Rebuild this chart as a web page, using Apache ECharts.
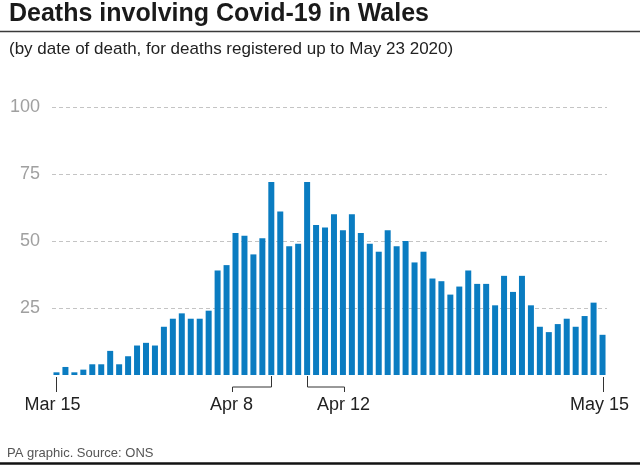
<!DOCTYPE html>
<html>
<head>
<meta charset="utf-8">
<script src="https://cdn.jsdelivr.net/npm/echarts@6/dist/echarts.min.js"></script>
<style>
html,body{margin:0;padding:0;background:#fff;}
#chart{width:640px;height:470px;}
</style>
</head>
<body>
<div id="chart"></div>
<script>
const categories = [
  'Mar 15','Mar 16','Mar 17','Mar 18','Mar 19','Mar 20','Mar 21','Mar 22','Mar 23','Mar 24',
  'Mar 25','Mar 26','Mar 27','Mar 28','Mar 29','Mar 30','Mar 31',
  'Apr 1','Apr 2','Apr 3','Apr 4','Apr 5','Apr 6','Apr 7','Apr 8','Apr 9','Apr 10',
  'Apr 11','Apr 12','Apr 13','Apr 14','Apr 15','Apr 16','Apr 17','Apr 18','Apr 19','Apr 20',
  'Apr 21','Apr 22','Apr 23','Apr 24','Apr 25','Apr 26','Apr 27','Apr 28','Apr 29','Apr 30',
  'May 1','May 2','May 3','May 4','May 5','May 6','May 7','May 8','May 9','May 10',
  'May 11','May 12','May 13','May 14','May 15'
];
const deaths = [
  1,3,1,2,4,4,9,4,7,11,
  12,11,18,21,23,21,21,24,39,41,
  53,52,45,51,72,61,48,49,72,56,
  55,60,54,60,53,49,46,54,48,50,
  42,46,36,35,30,33,39,34,34,26,
  37,31,37,26,18,16,19,21,18,22,
  27,15
];
const yTickValues = [0,25,50,75,100];
const endTickLabels = ['Mar 15','May 15'];
const bracketLabels = ['Apr 8','Apr 12'];

const titleText = 'Deaths involving Covid-19 in Wales';
const subtitleText = '(by date of death, for deaths registered up to May 23 2020)';
const sourceText = 'PA graphic. Source: ONS';

const FONT = '"Liberation Sans", Arial, sans-serif';
const chart = echarts.init(document.getElementById('chart'), null, {renderer:'canvas'});

chart.setOption({
  animation: false,
  backgroundColor: '#fff',
  grid: {left: 52, right: 33, top: 107, bottom: 95, containLabel: false},
  xAxis: {
    type: 'category',
    data: categories,
    boundaryGap: true,
    axisLine: {show: false},
    axisTick: {show: false},
    axisLabel: {show: false},
    splitLine: {show: false}
  },
  yAxis: {
    type: 'value',
    min: yTickValues[0],
    max: yTickValues[yTickValues.length-1],
    interval: 25,
    axisLine: {show: false},
    axisTick: {show: false},
    axisLabel: {
      margin: 12,
      color: '#a0a0a0',
      fontSize: 18,
      fontFamily: FONT,
      formatter: v => v === 0 ? '' : String(v)
    },
    splitLine: {
      show: true,
      showMinLine: false,
      lineStyle: {color: '#c4c4c4', width: 1, type: [4, 3]}
    }
  },
  series: [{
    type: 'bar',
    data: deaths,
    barWidth: 6,
    itemStyle: {color: '#0a7cc1'}
  }]
});

function px(cat) { return chart.convertToPixel({xAxisIndex: 0}, cat); }
const baseY = chart.convertToPixel({yAxisIndex: 0}, 0);
const step = px(categories[1]) - px(categories[0]);

const g = [];
// Title, rule, subtitle
g.push({type:'text', left: 9, top: 2, style:{text: titleText, font: 'bold 25px ' + FONT, fill:'#1a1a1a'}});
g.push({type:'line', shape:{x1:0, y1:31.5, x2:640, y2:31.5}, style:{stroke:'#3a3a3a', lineWidth:1.5}});
g.push({type:'text', left: 9, top: 41, style:{text: subtitleText, font: '17px ' + FONT, fill:'#222'}});
// Footer
g.push({type:'text', left: 7, top: 447, style:{text: sourceText, font: '13px ' + FONT, fill:'#555'}});
g.push({type:'line', shape:{x1:0, y1:463.5, x2:640, y2:463.5}, style:{stroke:'#111', lineWidth:2.5}});

const lineStyle = {stroke:'#333', lineWidth:1};
// End ticks
endTickLabels.forEach((d, i) => {
  const x = Math.round(px(d)) + 0.5;
  g.push({type:'line', shape:{x1:x, y1:baseY+2, x2:x, y2:baseY+17}, style: lineStyle});
  g.push({type:'text', x: x - 4, y: baseY + 30,
    style:{text: d, font: '18px ' + FONT, fill:'#222', align:'center', verticalAlign:'middle'}});
});
// Brackets
const bracketReach = [-4.4, 4.1];
bracketLabels.forEach((d, i) => {
  const x = Math.round(px(d)) + 0.5;
  const xe = Math.round(x + bracketReach[i] * step) + 0.5;
  g.push({type:'polyline', shape:{points:[[x, baseY+1],[x, baseY+12],[xe, baseY+12],[xe, baseY+17]]},
    style: Object.assign({fill:null}, lineStyle)});
  g.push({type:'text', x: xe - 1, y: baseY + 30,
    style:{text: d, font: '18px ' + FONT, fill:'#222', align:'center', verticalAlign:'middle'}});
});
chart.setOption({graphic: g});
</script>
</body>
</html>
